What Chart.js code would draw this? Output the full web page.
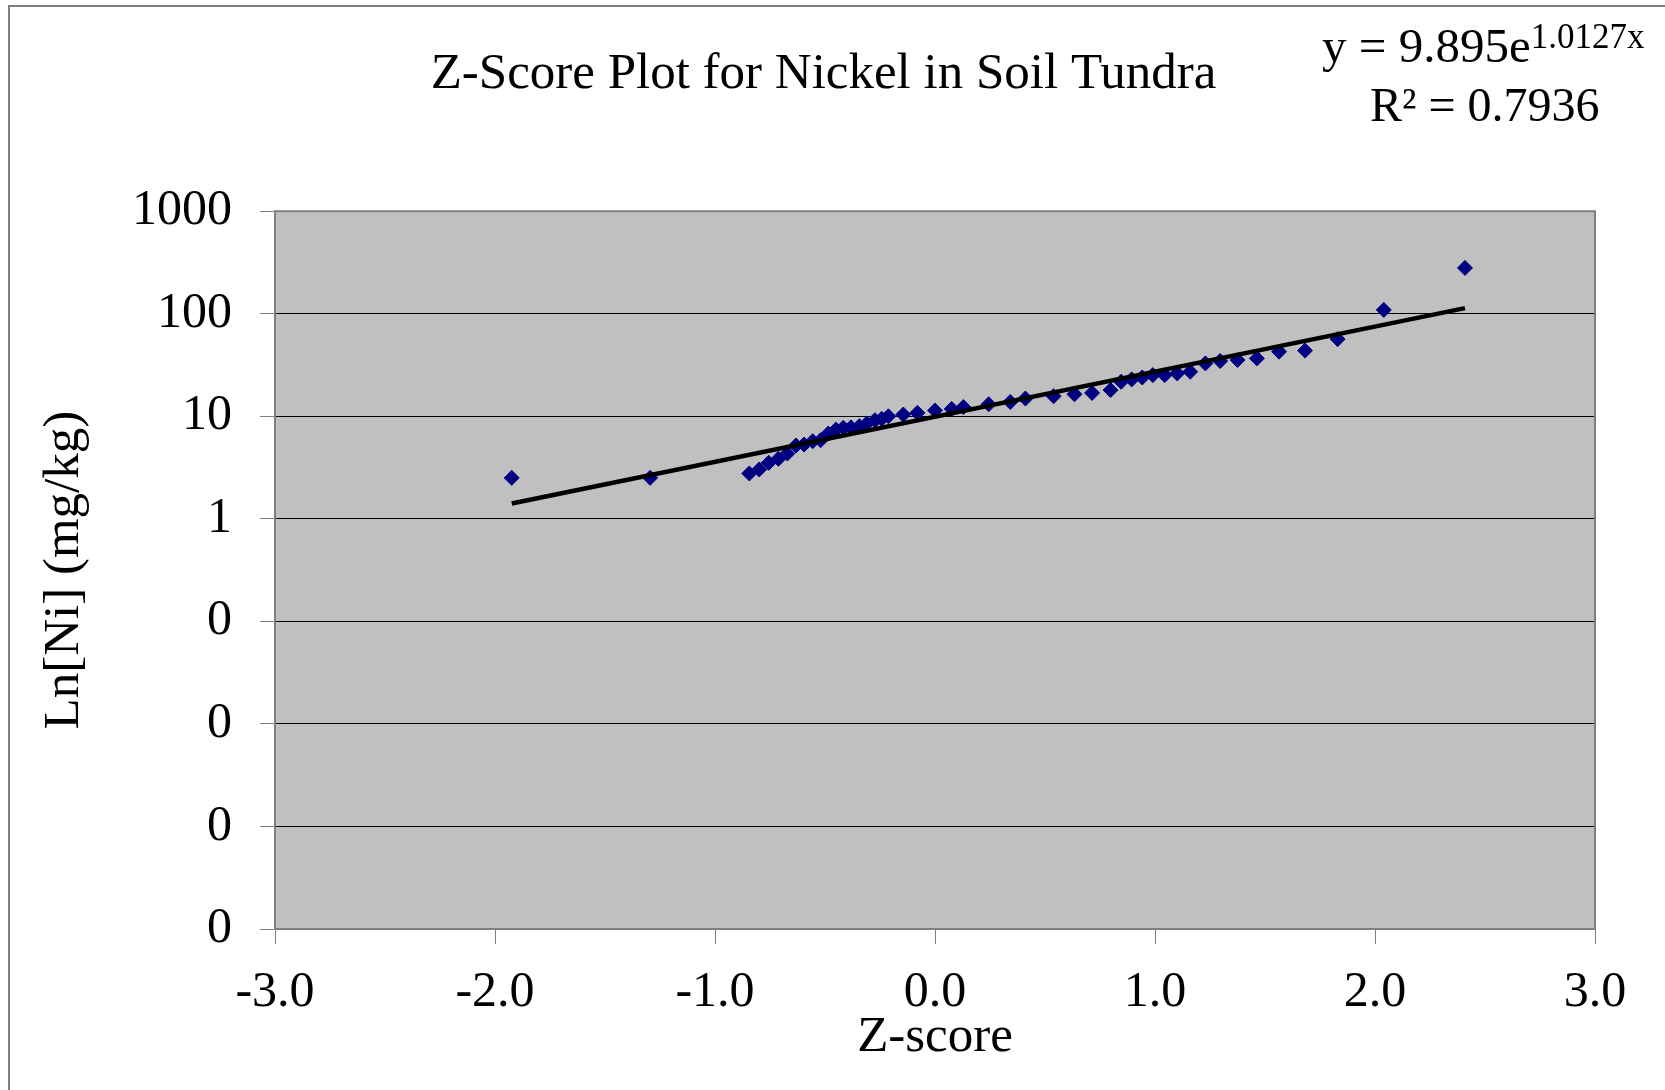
<!DOCTYPE html>
<html>
<head>
<meta charset="utf-8">
<script src="https://cdn.jsdelivr.net/npm/chart.js@4.4.1/dist/chart.umd.min.js"></script>
<style>
  html, body { margin: 0; padding: 0; background: #ffffff; }
  #wrap { width: 1665px; height: 1090px; position: relative; }
</style>
</head>
<body>
<div id="wrap"><canvas id="myChart" width="1665" height="1090"></canvas></div>
<script>
// z-scores and nickel values
var zScores = [-1.924, -1.295, -0.844, -0.799, -0.756, -0.712, -0.671, -0.632, -0.595, -0.556,
  -0.520, -0.485, -0.450, -0.417, -0.382, -0.344, -0.310, -0.273, -0.242, -0.212,
  -0.144, -0.080, 0.000, 0.076, 0.129, 0.244, 0.342, 0.411, 0.539, 0.634,
  0.714, 0.798, 0.846, 0.894, 0.942, 0.990, 1.044, 1.101, 1.160, 1.229,
  1.296, 1.375, 1.463, 1.564, 1.682, 1.830, 2.040, 2.409]
var nickel = [2.51, 2.51, 2.77, 3.03, 3.52, 3.85, 4.33, 5.19, 5.30, 5.71,
  5.84, 6.78, 7.42, 7.71, 7.80, 8.00, 8.50, 9.16, 9.44, 10.0,
  10.4, 10.8, 11.4, 11.8, 12.3, 13.1, 13.8, 14.9, 15.7, 16.4,
  16.9, 18.0, 21.7, 22.9, 23.9, 25.2, 25.2, 26.2, 27.2, 32.8,
  34.6, 35.4, 36.7, 42.7, 43.7, 56.5, 109, 280]
// exponential trendline endpoints (straight on the log axis)
var trendX = [-1.924, 2.409]
var trendY = [1.41, 113.5]
var yTickValues = [0.0001, 0.001, 0.01, 0.1, 1, 10, 100, 1000]
var xTickValues = [-3, -2, -1, 0, 1, 2, 3]
var titleText = "Z-Score Plot for Nickel in Soil Tundra"
var eqMain = "y = 9.895e"
var eqSup = "1.0127x"
var r2Text = "R\u00b2 = 0.7936"

var serif = "'Liberation Serif', 'Times New Roman', serif"

var points = zScores.map((z, i) => ({x: z, y: nickel[i]}))
var trend = trendX.map((z, i) => ({x: z, y: trendY[i]}))

const plotBox = {
  id: 'plotBox',
  beforeDraw(chart) {
    const c = chart.ctx, a = chart.chartArea
    c.save()
    // outer frame (only top/left visible)
    c.strokeStyle = '#808080'
    c.lineWidth = 2
    c.beginPath()
    c.moveTo(9, 1200); c.lineTo(9, 6); c.lineTo(1700, 6)
    c.stroke()
    c.fillStyle = '#c0c0c0'
    c.fillRect(a.left, a.top, a.right - a.left, a.bottom - a.top)
    c.restore()
  },
  afterDraw(chart) {
    const c = chart.ctx, a = chart.chartArea
    c.save()
    c.strokeStyle = '#808080'
    c.lineWidth = 2
    c.strokeRect(a.left, a.top, a.right - a.left, a.bottom - a.top)
    // trendline equation
    c.fillStyle = '#000'
    c.textBaseline = 'alphabetic'
    c.textAlign = 'left'
    c.font = '49px ' + serif
    c.fillText(eqMain, 1322, 62)
    var w = c.measureText(eqMain).width
    c.font = '35px ' + serif
    c.fillText(eqSup, 1322 + w, 48)
    c.font = '48px ' + serif
    c.fillText(r2Text, 1370, 121)
    c.restore()
  }
}

const ctx = document.getElementById('myChart')
const chart1 = new Chart(ctx, {
  type: 'scatter',
  data: {
    datasets: [{
      data: trend,
      showLine: true,
      borderColor: '#000000',
      borderWidth: 4.5,
      pointRadius: 0,
      fill: false,
      order: 0
    }, {
      data: points,
      pointStyle: 'rectRot',
      pointRadius: 7.5,
      pointBackgroundColor: '#000080',
      pointBorderColor: '#000080',
      pointBorderWidth: 1,
      order: 1
    }]
  },
  options: {
    responsive: false,
    animation: false,
    layout: {padding: {left: 52, right: 70, top: 0, bottom: 0}},
    plugins: {
      legend: {display: false},
      tooltip: {enabled: false},
      title: {
        display: true,
        text: titleText,
        color: '#000',
        font: {family: serif, size: 51, weight: 'normal'},
        padding: {top: 44, bottom: 106}
      }
    },
    scales: {
      x: {
        type: 'linear',
        min: -3,
        max: 3,
        afterBuildTicks: (s) => { s.ticks = xTickValues.map(v => ({value: v})) },
        afterFit: (s) => { s.height = 161 },
        ticks: {
          color: '#000',
          font: {family: serif, size: 50},
          padding: 19,
          callback: (v) => v.toFixed(1)
        },
        grid: {drawOnChartArea: false, drawTicks: true, tickLength: 15, color: '#808080'},
        border: {display: false},
        title: {
          display: true,
          text: 'Z-score',
          color: '#000',
          font: {family: serif, size: 51},
          padding: {top: 0, bottom: 22}
        }
      },
      y: {
        type: 'logarithmic',
        min: 0.0001,
        max: 1000,
        afterBuildTicks: (s) => { s.ticks = yTickValues.map(v => ({value: v})) },
        afterFit: (s) => { s.width = 223 },
        ticks: {
          color: '#000',
          font: {family: serif, size: 50},
          padding: 28,
          callback: (v) => v >= 1 ? String(v) : '0'
        },
        grid: {color: '#000000', lineWidth: 1, tickLength: 15, tickColor: '#808080'},
        border: {display: false},
        title: {
          display: true,
          text: 'Ln[Ni] (mg/kg)',
          color: '#000',
          font: {family: serif, size: 51, lineHeight: 0.4},
          padding: {top: 2, bottom: 0}
        }
      }
    }
  },
  plugins: [plotBox]
})
</script>
</body>
</html>
